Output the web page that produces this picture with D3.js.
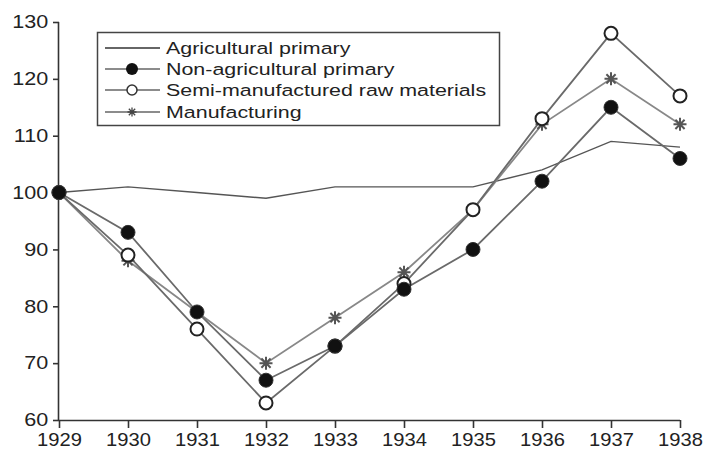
<!DOCTYPE html>
<html>
<head>
<meta charset="utf-8">
<script src="https://cdn.jsdelivr.net/npm/d3@7"></script>
<style>
  html, body { margin: 0; padding: 0; background: #fff; }
  svg { display: block; font-family: "Liberation Sans", Arial, sans-serif; }
</style>
</head>
<body>
<svg id="chart" width="708" height="452"></svg>
<script>
// ---- data ----
const years = [1929, 1930, 1931, 1932, 1933, 1934, 1935, 1936, 1937, 1938];
const agriculturalPrimary = [100, 101, 100, 99, 101, 101, 101, 104, 109, 108];
const nonAgriculturalPrimary = [100, 93, 79, 67, 73, 83, 90, 102, 115, 106];
const semiManufactured = [100, 89, 76, 63, 73, 84, 97, 113, 128, 117];
const manufacturing = [100, 88, 79, 70, 78, 86, 97, 112, 120, 112];
const yTicks = [60, 70, 80, 90, 100, 110, 120, 130];
const seriesNames = ["Agricultural primary", "Non-agricultural primary", "Semi-manufactured raw materials", "Manufacturing"];

const svg = d3.select("#chart");
const x = d3.scaleLinear().domain([1929, 1938]).range([59, 680]);
const y = d3.scaleLinear().domain([60, 130]).range([420, 22]);

const textStretch = 1.2;

// axes
const yAxis = d3.axisLeft(y).tickValues(yTicks).tickSize(6).tickPadding(3).tickFormat(d3.format("d"));
const gy = svg.append("g").attr("transform", `translate(${x(1929)},0)`).call(yAxis);
const xAxis = d3.axisBottom(x).tickValues(years).tickSize(8).tickPadding(5).tickFormat(d3.format("d"));
const gx = svg.append("g").attr("transform", `translate(0,${y(60)})`).call(xAxis);
[gx, gy].forEach(g => {
  g.select(".domain").attr("stroke", "#333").attr("stroke-width", 1.6);
  g.selectAll(".tick line").attr("stroke", "#333").attr("stroke-width", 1.6);
  g.selectAll(".tick text").attr("fill", "#222").attr("font-size", 18)
    .attr("font-family", "Liberation Sans, Arial, sans-serif");
});
gy.selectAll(".tick text").attr("transform", `scale(${textStretch},1)`);
gx.selectAll(".tick text").attr("transform", `scale(1.12,1)`);
gx.select(".domain").attr("d", `M${x(1929)},0.5H${x(1938)}`);
gy.select(".domain").attr("d", `M-0.5,${y(60)}V${y(130)}`);

const line = d3.line().x((d, i) => x(years[i])).y(d => y(d));

// star (asterisk with 8 spokes)
function starPath(r) {
  const p = d3.path();
  for (let k = 0; k < 4; k++) {
    const a = k * Math.PI / 4;
    p.moveTo(-r * Math.cos(a), -r * Math.sin(a));
    p.lineTo(r * Math.cos(a), r * Math.sin(a));
  }
  return p.toString();
}

const lineColor = "#6a6a6a";

// lines
svg.append("path").datum(agriculturalPrimary).attr("d", line)
  .attr("fill", "none").attr("stroke", "#555").attr("stroke-width", 1.4);
svg.append("path").datum(manufacturing).attr("d", line)
  .attr("fill", "none").attr("stroke", "#888").attr("stroke-width", 1.8);
svg.append("path").datum(semiManufactured).attr("d", line)
  .attr("fill", "none").attr("stroke", lineColor).attr("stroke-width", 1.8);
svg.append("path").datum(nonAgriculturalPrimary).attr("d", line)
  .attr("fill", "none").attr("stroke", lineColor).attr("stroke-width", 1.8);

// markers
svg.append("g").selectAll("path").data(manufacturing).join("path")
  .attr("transform", (d, i) => `translate(${x(years[i])},${y(d)})`)
  .attr("d", starPath(6.5)).attr("stroke", "#555").attr("stroke-width", 2).attr("fill", "none");
svg.append("g").selectAll("circle").data(semiManufactured).join("circle")
  .attr("cx", (d, i) => x(years[i])).attr("cy", d => y(d)).attr("r", 6.5)
  .attr("fill", "#fff").attr("stroke", "#222").attr("stroke-width", 2);
svg.append("g").selectAll("circle").data(nonAgriculturalPrimary).join("circle")
  .attr("cx", (d, i) => x(years[i])).attr("cy", d => y(d)).attr("r", 7)
  .attr("fill", "#111").attr("stroke", "#333").attr("stroke-width", 1);

// legend
const legend = svg.append("g");
legend.append("rect").attr("x", 97.5).attr("y", 32.5).attr("width", 402).attr("height", 93)
  .attr("fill", "#fff").attr("stroke", "#444").attr("stroke-width", 1.5);
const rowY = [48, 69, 90, 112];
seriesNames.forEach((name, i) => {
  const g = legend.append("g").attr("transform", `translate(0,${rowY[i]})`);
  g.append("line").attr("x1", 105).attr("x2", 160).attr("y1", 0).attr("y2", 0)
    .attr("stroke", i === 0 ? "#333" : "#666").attr("stroke-width", 1.5);
  if (i === 1) g.append("circle").attr("cx", 132).attr("cy", 0).attr("r", 6).attr("fill", "#111");
  if (i === 2) g.append("circle").attr("cx", 132).attr("cy", 0).attr("r", 5).attr("fill", "#fff").attr("stroke", "#333").attr("stroke-width", 1.5);
  if (i === 3) g.append("path").attr("transform", "translate(132,0)").attr("d", starPath(4.5)).attr("stroke", "#444").attr("stroke-width", 1.3);
  g.append("text").attr("transform", `translate(166,0) scale(1.26,1)`)
    .attr("dy", "0.35em").attr("font-size", 17).attr("fill", "#222").text(name);
});
</script>
</body>
</html>
